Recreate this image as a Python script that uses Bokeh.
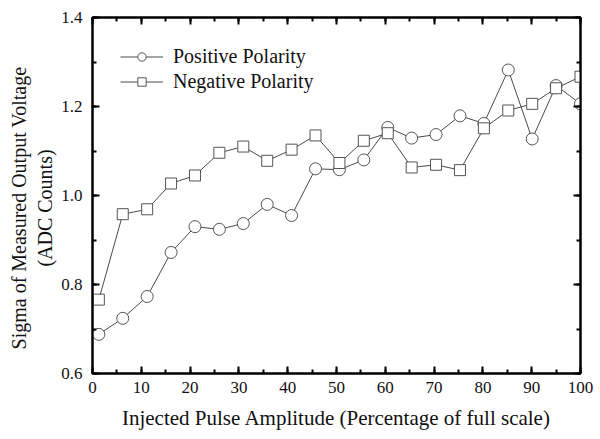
from bokeh.plotting import figure
from bokeh.models import (LinearAxis, Range1d, Legend, LegendItem, FixedTicker,
                          PrintfTickFormatter, CustomJSTickFormatter, ColumnDataSource)
from bokeh.embed import file_html
from bokeh.resources import INLINE

x_vals = [1.3, 6.2, 11.2, 16.1, 21.0, 26.0, 30.9, 35.8, 40.8, 45.7, 50.6,
          55.6, 60.5, 65.4, 70.4, 75.3, 80.2, 85.2, 90.1, 95.0, 100.0]
positive = [0.688, 0.724, 0.773, 0.872, 0.930, 0.924, 0.937, 0.980, 0.955, 1.060, 1.058,
            1.080, 1.153, 1.129, 1.137, 1.179, 1.162, 1.282, 1.127, 1.247, 1.206]
negative = [0.766, 0.958, 0.969, 1.027, 1.045, 1.096, 1.110, 1.078, 1.103, 1.135, 1.073,
            1.123, 1.140, 1.063, 1.069, 1.057, 1.151, 1.191, 1.206, 1.241, 1.267]
x_ticks = [0, 10, 20, 30, 40, 50, 60, 70, 80, 90, 100]
y_ticks = [0.6, 0.8, 1.0, 1.2, 1.4]
x_minor = [0, 5, 10, 15, 20, 25, 30, 35, 40, 45, 50, 55, 60, 65, 70, 75, 80, 85, 90, 95, 100]
y_minor = [0.6, 0.7, 0.8, 0.9, 1.0, 1.1, 1.2, 1.3, 1.4]

FONT = "'Liberation Serif', 'Times New Roman', serif"
W, H = 598, 432

src = ColumnDataSource(dict(x=x_vals, pos=positive, neg=negative))

p = figure(width=W, height=H, output_backend="svg", toolbar_location=None,
           x_range=Range1d(0, 100), y_range=Range1d(0.6, 1.4),
           min_border_left=92, min_border_right=W - 580, min_border_top=17,
           min_border_bottom=H - 375)
p.grid.visible = False
p.outline_line_color = "black"
p.outline_line_width = 2
p.background_fill_color = "white"
p.border_fill_color = "white"

line_col = "#4a4a4a"
mk_col = "#555555"
lp = p.line("x", "pos", source=src, line_color=line_col, line_width=1)
sp = p.scatter("x", "pos", source=src, marker="circle", size=12, fill_color="white",
               line_color=mk_col, line_width=1)
ln = p.line("x", "neg", source=src, line_color=line_col, line_width=1)
sn = p.scatter("x", "neg", source=src, marker="square", size=11, fill_color="white",
               line_color=mk_col, line_width=1)


def style_axis(ax, ticks, minor, labels=True):
    ax.ticker = FixedTicker(ticks=ticks, minor_ticks=minor)
    ax.axis_line_color = "black"
    ax.axis_line_width = 2
    ax.major_tick_in = 7
    ax.major_tick_out = 0
    ax.minor_tick_in = 4
    ax.minor_tick_out = 0
    ax.major_tick_line_width = 2
    ax.minor_tick_line_width = 2
    ax.major_label_text_font = FONT
    ax.major_label_text_font_size = "17px"
    ax.major_label_text_color = "#111111"
    ax.axis_label_text_font = FONT
    ax.axis_label_text_font_style = "normal"
    ax.axis_label_text_font_size = "21px"
    ax.axis_label_text_color = "#111111"
    if not labels:
        ax.formatter = CustomJSTickFormatter(code="return ''")
        ax.major_label_standoff = 0


style_axis(p.xaxis[0], x_ticks, x_minor)
style_axis(p.yaxis[0], y_ticks, y_minor)
p.xaxis[0].axis_label = "Injected Pulse Amplitude (Percentage of full scale)"
p.xaxis[0].major_label_standoff = 8
p.xaxis[0].axis_label_standoff = 10
NB = "\u00a0" * 5
p.yaxis[0].axis_label = "Sigma of Measured Output Voltage" + NB + "\n(ADC Counts)" + NB
p.yaxis[0].axis_label_text_font_size = "20px"
p.yaxis[0].major_label_standoff = 10
p.yaxis[0].axis_label_standoff = 2
p.yaxis[0].formatter = PrintfTickFormatter(format="%.1f")

top = LinearAxis()
style_axis(top, x_ticks, x_minor, labels=False)
p.add_layout(top, "above")
right = LinearAxis()
style_axis(right, y_ticks, y_minor, labels=False)
p.add_layout(right, "right")

legend = Legend(items=[LegendItem(label="Positive Polarity", renderers=[lp, sp]),
                       LegendItem(label="Negative Polarity", renderers=[ln, sn])],
                location="top_left")
legend.label_text_font = FONT
legend.label_text_font_size = "20px"
legend.label_text_color = "#111111"
legend.border_line_color = None
legend.background_fill_alpha = 0
legend.margin = 28
legend.padding = 0
legend.spacing = 2
legend.glyph_width = 43
legend.glyph_height = 21
legend.label_standoff = 10
p.add_layout(legend)

open("out.html", "w").write(file_html(p, INLINE))
